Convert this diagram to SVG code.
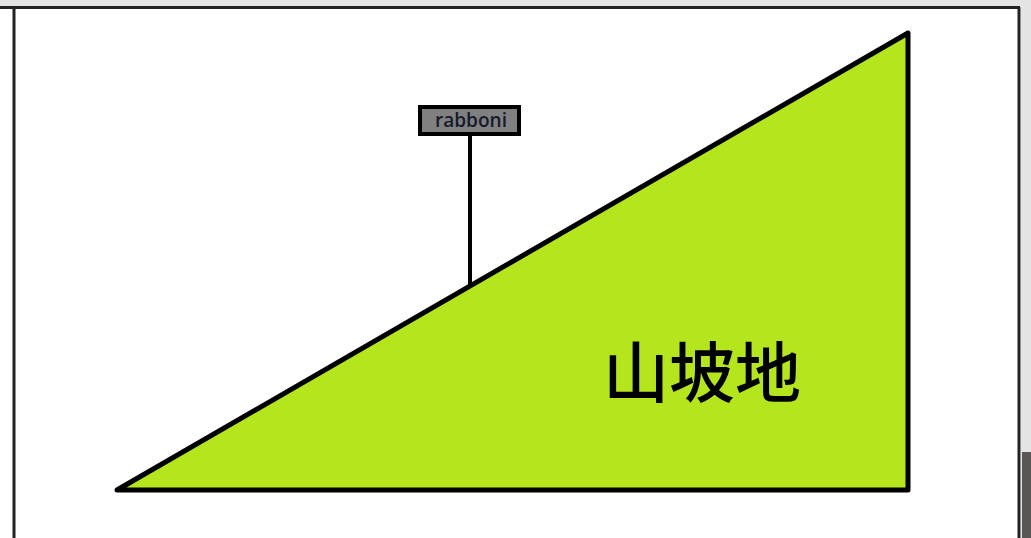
<svg xmlns="http://www.w3.org/2000/svg" width="1031" height="538" viewBox="0 0 1031 538">
<style>
.frame{stroke:#222;stroke-width:3;fill:none}
.slope{fill:#b5e61d;stroke:#000;stroke-width:5;stroke-linejoin:round}
.pole{stroke:#000;stroke-width:4}
.sign{fill:#808080;stroke:#000;stroke-width:4}
.sl{font-family:"Open Sans","Liberation Sans",sans-serif;font-size:19px;font-weight:600;fill:#141a2c}
.big{font-family:"Noto Sans CJK SC","Noto Sans CJK TC",sans-serif;font-size:66px;font-weight:500;fill:#000}
</style>
<rect x="0" y="0" width="1031" height="538" fill="#fff"/>
<rect x="0" y="0" width="1031" height="6" fill="#e4e4e4"/>
<rect x="1021" y="0" width="10" height="538" fill="#e4e4e4"/>
<rect x="1022" y="452" width="9" height="86" fill="#5a5656"/>
<g id="frame">
<line class="frame" x1="0" y1="7.5" x2="1020" y2="7.5"/>
<line class="frame" x1="14" y1="7" x2="14" y2="538"/>
<line class="frame" x1="1019" y1="7" x2="1019" y2="538"/>
</g>
<g id="slope">
<polygon class="slope" points="117,490 908,33 908,490"/>
<text class="big" x="603" y="397">山坡地</text>
</g>
<g id="connectors">
<line class="pole" x1="470" y1="135" x2="470" y2="286"/>
</g>
<g id="sign">
<rect class="sign" x="420" y="107" width="99" height="27"/>
<text class="sl" x="435" y="127" textLength="72" lengthAdjust="spacingAndGlyphs">rabboni</text>
</g>
</svg>
